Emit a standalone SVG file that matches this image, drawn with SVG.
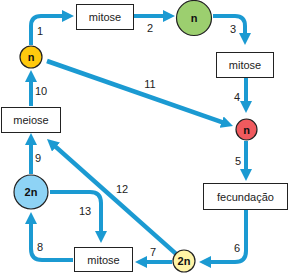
<svg xmlns="http://www.w3.org/2000/svg" width="289" height="274" viewBox="0 0 289 274">
<style>
.box{fill:#fff;stroke:#222;stroke-width:1}
.t{font-family:"Liberation Sans",Arial,sans-serif;font-size:11px;fill:#222;text-anchor:middle}
.c{font-family:"Liberation Sans",Arial,sans-serif;font-size:11px;font-weight:bold;fill:#111;text-anchor:middle}
.circ{stroke:#222;stroke-width:1.2}
.a{fill:none;stroke:#1B9AD2;stroke-width:4;marker-end:url(#ah)}
.d{stroke-width:4.6}
</style>
<defs>
<marker id="ah" viewBox="0 0 12 12" refX="1" refY="6" markerWidth="12" markerHeight="12" markerUnits="userSpaceOnUse" orient="auto">
<path d="M0,0 L12,6 L0,12 z" fill="#1B9AD2"/>
</marker>
</defs>
<g id="connectors">
<path class="a" d="M31,45 V26 Q31,16 41,16 H63"/>
<path class="a" d="M134,16 H164"/>
<path class="a" d="M213,16 H235 Q245,16 245,26 V34"/>
<path class="a" d="M246,78 V102"/>
<path class="a" d="M246,141 V170"/>
<path class="a" d="M246,210 V251 Q246,262 235,262 H210"/>
<path class="a" d="M172,262 H146"/>
<path class="a" d="M73,260 H42 Q31,260 31,249 V223"/>
<path class="a" d="M31,174 V144"/>
<path class="a" d="M31,106 V81"/>
<path class="a d" d="M47,61 L222.6,122.4"/>
<path class="a d" d="M175.8,253.6 L55.2,146.4"/>
<path class="a" d="M50,192 H90 Q101,192 101,203 V232"/>
</g>
<g id="labels">
<text class="t" x="40" y="35">1</text>
<text class="t" x="150" y="32">2</text>
<text class="t" x="233" y="33">3</text>
<text class="t" x="237" y="101">4</text>
<text class="t" x="238" y="165">5</text>
<text class="t" x="237" y="252">6</text>
<text class="t" x="153" y="256">7</text>
<text class="t" x="40" y="251">8</text>
<text class="t" x="38" y="162">9</text>
<text class="t" x="41" y="95">10</text>
<text class="t" x="150" y="88">11</text>
<text class="t" x="122" y="193">12</text>
<text class="t" x="85" y="215">13</text>
</g>
<g id="mitose1"><rect class="box" x="76.5" y="4.5" width="57" height="25"/><text class="t" x="105" y="21">mitose</text></g>
<g id="mitose2"><rect class="box" x="216.5" y="52.5" width="57" height="25"/><text class="t" x="245" y="69">mitose</text></g>
<g id="mitose3"><rect class="box" x="74.5" y="247.5" width="58" height="24"/><text class="t" x="103.5" y="263.5">mitose</text></g>
<g id="meiose"><rect class="box" x="1.5" y="107.5" width="59" height="25"/><text class="t" x="31" y="124">meiose</text></g>
<g id="fecundacao"><rect class="box" x="203.5" y="183.5" width="84" height="26"/><text class="t" x="245.5" y="200.5">fecundação</text></g>
<g id="n-yellow"><circle class="circ" cx="31" cy="57" r="11" fill="#FFC90E"/><text class="c" x="31" y="61">n</text></g>
<g id="n-green"><circle class="circ" cx="194" cy="18" r="17.5" fill="#9CCF6F"/><text class="c" x="194" y="22">n</text></g>
<g id="n-red"><circle class="circ" cx="246.5" cy="129.5" r="10.5" fill="#F05A5E"/><text class="c" x="246.5" y="133.5">n</text></g>
<g id="2n-blue"><circle class="circ" cx="31" cy="192" r="17" fill="#8ED3F5"/><text class="c" x="31" y="196">2n</text></g>
<g id="2n-yellow"><circle class="circ" cx="184" cy="261" r="11" fill="#FFF4A6"/><text class="c" x="184" y="265">2n</text></g>
</svg>
